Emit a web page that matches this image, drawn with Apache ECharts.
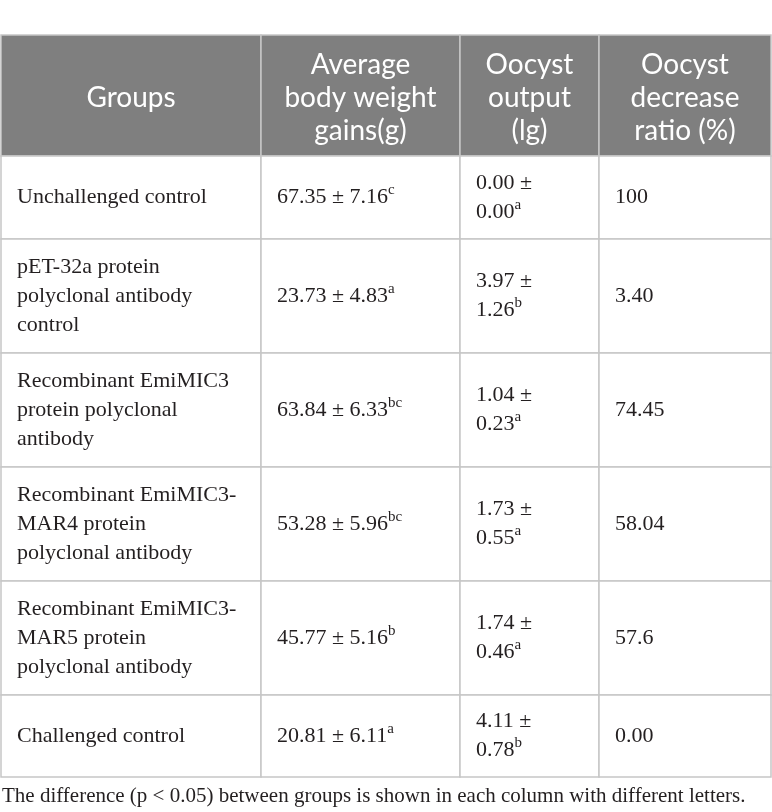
<!DOCTYPE html>
<html>
<head>
<meta charset="utf-8">
<script src="https://cdn.jsdelivr.net/npm/echarts@6/dist/echarts.min.js"></script>
<style>
  html, body { margin: 0; padding: 0; background: #fff; }
  #main { width: 772px; height: 812px; }
</style>
</head>
<body>
<div id="main"></div>
<script>
// 表头
var headers = ['Groups', 'Average\nbody weight\ngains(g)', 'Oocyst\noutput\n(lg)', 'Oocyst\ndecrease\nratio (%)']
// 组别
var groups = [
  'Unchallenged control',
  'pET-32a protein\npolyclonal antibody\ncontrol',
  'Recombinant EmiMIC3\nprotein polyclonal\nantibody',
  'Recombinant EmiMIC3-\nMAR4 protein\npolyclonal antibody',
  'Recombinant EmiMIC3-\nMAR5 protein\npolyclonal antibody',
  'Challenged control'
]
// 平均增重 (g)
var weightMean = [67.35, 23.73, 63.84, 53.28, 45.77, 20.81]
var weightSd = [7.16, 4.83, 6.33, 5.96, 5.16, 6.11]
var weightSig = ['c', 'a', 'bc', 'bc', 'b', 'a']
// 卵囊产量 (lg)
var oocystMean = [0.00, 3.97, 1.04, 1.73, 1.74, 4.11]
var oocystSd = [0.00, 1.26, 0.23, 0.55, 0.46, 0.78]
var oocystSig = ['a', 'b', 'a', 'a', 'a', 'b']
// 卵囊减少率 (%)
var decreaseRatio = ['100', '3.40', '74.45', '58.04', '57.6', '0.00']
var footnote = 'The difference (p < 0.05) between groups is shown in each column with different letters.'

// 版式
var colEdges = [1, 261, 460, 599, 771]
var rowEdges = [35, 156, 239, 353, 467, 581, 695, 777]
var pad = 16
var serif = 'Liberation Serif'
var bodyFont = '22px "Liberation Serif"'
var headFont = '28px Lato'
var ink = '#231f20'

var cells = []
for (var r = 0; r <= groups.length; r++) {
  for (var c = 0; c < headers.length; c++) cells.push([c, r])
}

var rich = {
  b: { fontFamily: serif, fontSize: 22, lineHeight: 29, color: ink, fill: ink },
  s: { fontFamily: serif, fontSize: 15, lineHeight: 13, verticalAlign: 'top', color: ink, fill: ink }
}

function cellText(col, r) {
  if (col === 0) return { text: groups[r] }
  if (col === 1) return { text: '{b|' + weightMean[r].toFixed(2) + ' ± ' + weightSd[r].toFixed(2) + '}{s|' + weightSig[r] + '}', rich: rich }
  if (col === 2) return { text: '{b|' + oocystMean[r].toFixed(2) + ' ±}\n{b|' + oocystSd[r].toFixed(2) + '}{s|' + oocystSig[r] + '}', rich: rich }
  return { text: decreaseRatio[r] }
}

function renderItem(params, api) {
  var col = api.value(0), row = api.value(1)
  var p0 = api.coord([colEdges[col], rowEdges[row]])
  var p1 = api.coord([colEdges[col + 1], rowEdges[row + 1]])
  return {
    type: 'rect',
    shape: { x: p0[0], y: p0[1], width: p1[0] - p0[0], height: p1[1] - p0[1] },
    style: { fill: row === 0 ? '#7f7f7f' : '#ffffff', stroke: '#c6c6c6', lineWidth: 1.5 }
  }
}

var myChart = echarts.init(document.getElementById('main'))
myChart.setOption({
  animation: false,
  grid: { left: 0, right: 0, top: 0, bottom: 0 },
  xAxis: { type: 'value', min: 0, max: 772, show: false },
  yAxis: { type: 'value', min: 0, max: 812, inverse: true, show: false },
  series: [{
    type: 'custom',
    clip: false,
    silent: true,
    z: 1,
    renderItem: renderItem,
    data: cells
  }]
})

// 文字用 graphic 组件, 坐标经由坐标轴换算
var texts = []
cells.forEach(function (d) {
  var col = d[0], row = d[1]
  var p0 = myChart.convertToPixel({ gridIndex: 0 }, [colEdges[col], rowEdges[row]])
  var p1 = myChart.convertToPixel({ gridIndex: 0 }, [colEdges[col + 1], rowEdges[row + 1]])
  var cy = (p0[1] + p1[1]) / 2
  if (row === 0) {
    texts.push({
      type: 'text', x: (p0[0] + p1[0]) / 2, y: cy + 2, z: 100, silent: true,
      style: { text: headers[col], font: headFont, lineHeight: 33, fill: '#ffffff', align: 'center', verticalAlign: 'middle' }
    })
  } else {
    var t = cellText(col, row - 1)
    var st = { text: t.text, font: bodyFont, lineHeight: 29, fill: ink, align: 'left', verticalAlign: 'middle' }
    if (t.rich) st.rich = t.rich
    texts.push({ type: 'text', x: p0[0] + pad, y: cy, z: 100, silent: true, style: st })
  }
})
var fp = myChart.convertToPixel({ gridIndex: 0 }, [colEdges[0], rowEdges[rowEdges.length - 1]])
texts.push({
  type: 'text', x: fp[0] + 1, y: fp[1] + 9, z: 100, silent: true,
  style: { text: footnote, font: '21px "Liberation Serif"', fill: ink }
})
myChart.setOption({ graphic: texts })
</script>
</body>
</html>
